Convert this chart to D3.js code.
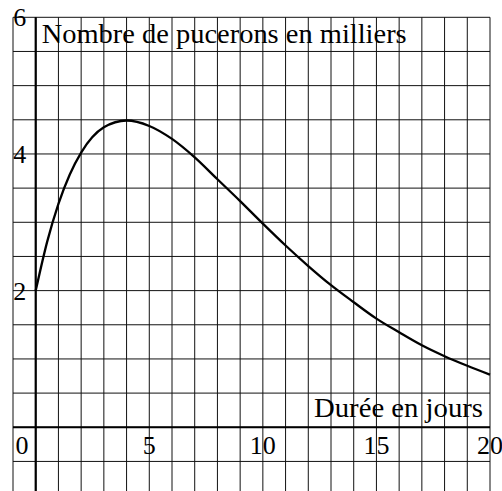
<!DOCTYPE html>
<html>
<head>
<meta charset="utf-8">
<script src="https://cdn.jsdelivr.net/npm/d3@7"></script>
<style>
  html, body { margin: 0; padding: 0; background: #fff; }
  svg { display: block; }
</style>
</head>
<body>
<script>
// Aphid population (thousands) over time (days)
const days = [0, 0.5, 1, 1.5, 2, 3, 4, 5, 6, 7, 8, 9, 10, 11, 12, 13, 14, 15, 16, 17, 18, 19, 20];
const aphids = [2.00, 2.71, 3.27, 3.70, 4.02, 4.39, 4.49, 4.41, 4.22, 3.95, 3.63, 3.31, 2.98,
                2.66, 2.36, 2.08, 1.83, 1.59, 1.39, 1.20, 1.04, 0.90, 0.77];
const xTickLabels = [5, 10, 15, 20];
const yTickLabels = [2, 4, 6];
const yTitle = "Nombre de pucerons en milliers";
const xTitle = "Durée en jours";

const W = 502, H = 491;
const svg = d3.select("body").append("svg").attr("width", W).attr("height", H);
const serif = '"Liberation Serif"';

const x = d3.scaleLinear().domain([-1, 20]).range([13.0, 490]);
const y = d3.scaleLinear().domain([-1, 6]).range([495.6, 17.3]);

// grid: one column per day, one row per half-thousand
const grid = svg.append("g").attr("stroke", "#111").attr("stroke-width", 1);
grid.selectAll("line.v").data(d3.range(-1, 21, 1)).join("line")
  .attr("class", "v")
  .attr("x1", d => x(d)).attr("x2", d => x(d))
  .attr("y1", y(6)).attr("y2", y(-1));
grid.selectAll("line.h").data(d3.range(-1, 6.01, 0.5)).join("line")
  .attr("class", "h")
  .attr("x1", x(-1)).attr("x2", x(20))
  .attr("y1", d => y(d)).attr("y2", d => y(d));

// axes
svg.append("line").attr("x1", x(-1)).attr("x2", x(20)).attr("y1", y(0)).attr("y2", y(0))
  .attr("stroke", "#000").attr("stroke-width", 2);
svg.append("line").attr("x1", x(0)).attr("x2", x(0)).attr("y1", y(6)).attr("y2", y(-1))
  .attr("stroke", "#000").attr("stroke-width", 2.2);

// curve
const line = d3.line().x((d, i) => x(days[i])).y(d => y(d)).curve(d3.curveMonotoneX);
svg.append("path").datum(aphids).attr("d", line)
  .attr("fill", "none").attr("stroke", "#000").attr("stroke-width", 2.3)
  .attr("stroke-linejoin", "round");

// tick labels
const fs = 26;
svg.selectAll("text.xt").data(xTickLabels).join("text")
  .attr("class", "xt")
  .attr("x", d => x(d)).attr("y", y(0) + 27)
  .attr("text-anchor", "middle");
svg.append("text").attr("class", "x0").attr("x", x(-0.6)).attr("y", y(0) + 27)
  .attr("text-anchor", "middle");
svg.selectAll("text.yt").data(yTickLabels).join("text")
  .attr("class", "yt")
  .attr("x", x(-1) + 0.3).attr("y", d => y(d) + 9)
  .attr("text-anchor", "start");
svg.selectAll("text.xt").text(d => d);
svg.select("text.x0").text("0");
svg.selectAll("text.yt").text(d => d);

// titles
svg.append("text").attr("class", "title").attr("x", 41.7).attr("y", 42.7)
  .attr("textLength", 365).attr("lengthAdjust", "spacingAndGlyphs").text(yTitle);
svg.append("text").attr("class", "title").attr("x", 314).attr("y", 416.5)
  .attr("textLength", 169).attr("lengthAdjust", "spacingAndGlyphs").text(xTitle);

svg.selectAll("text")
  .style("font-family", serif)
  .style("font-size", function () { return this.classList.contains("title") ? "27px" : fs + "px"; })
  .attr("fill", "#000");
</script>
</body>
</html>
